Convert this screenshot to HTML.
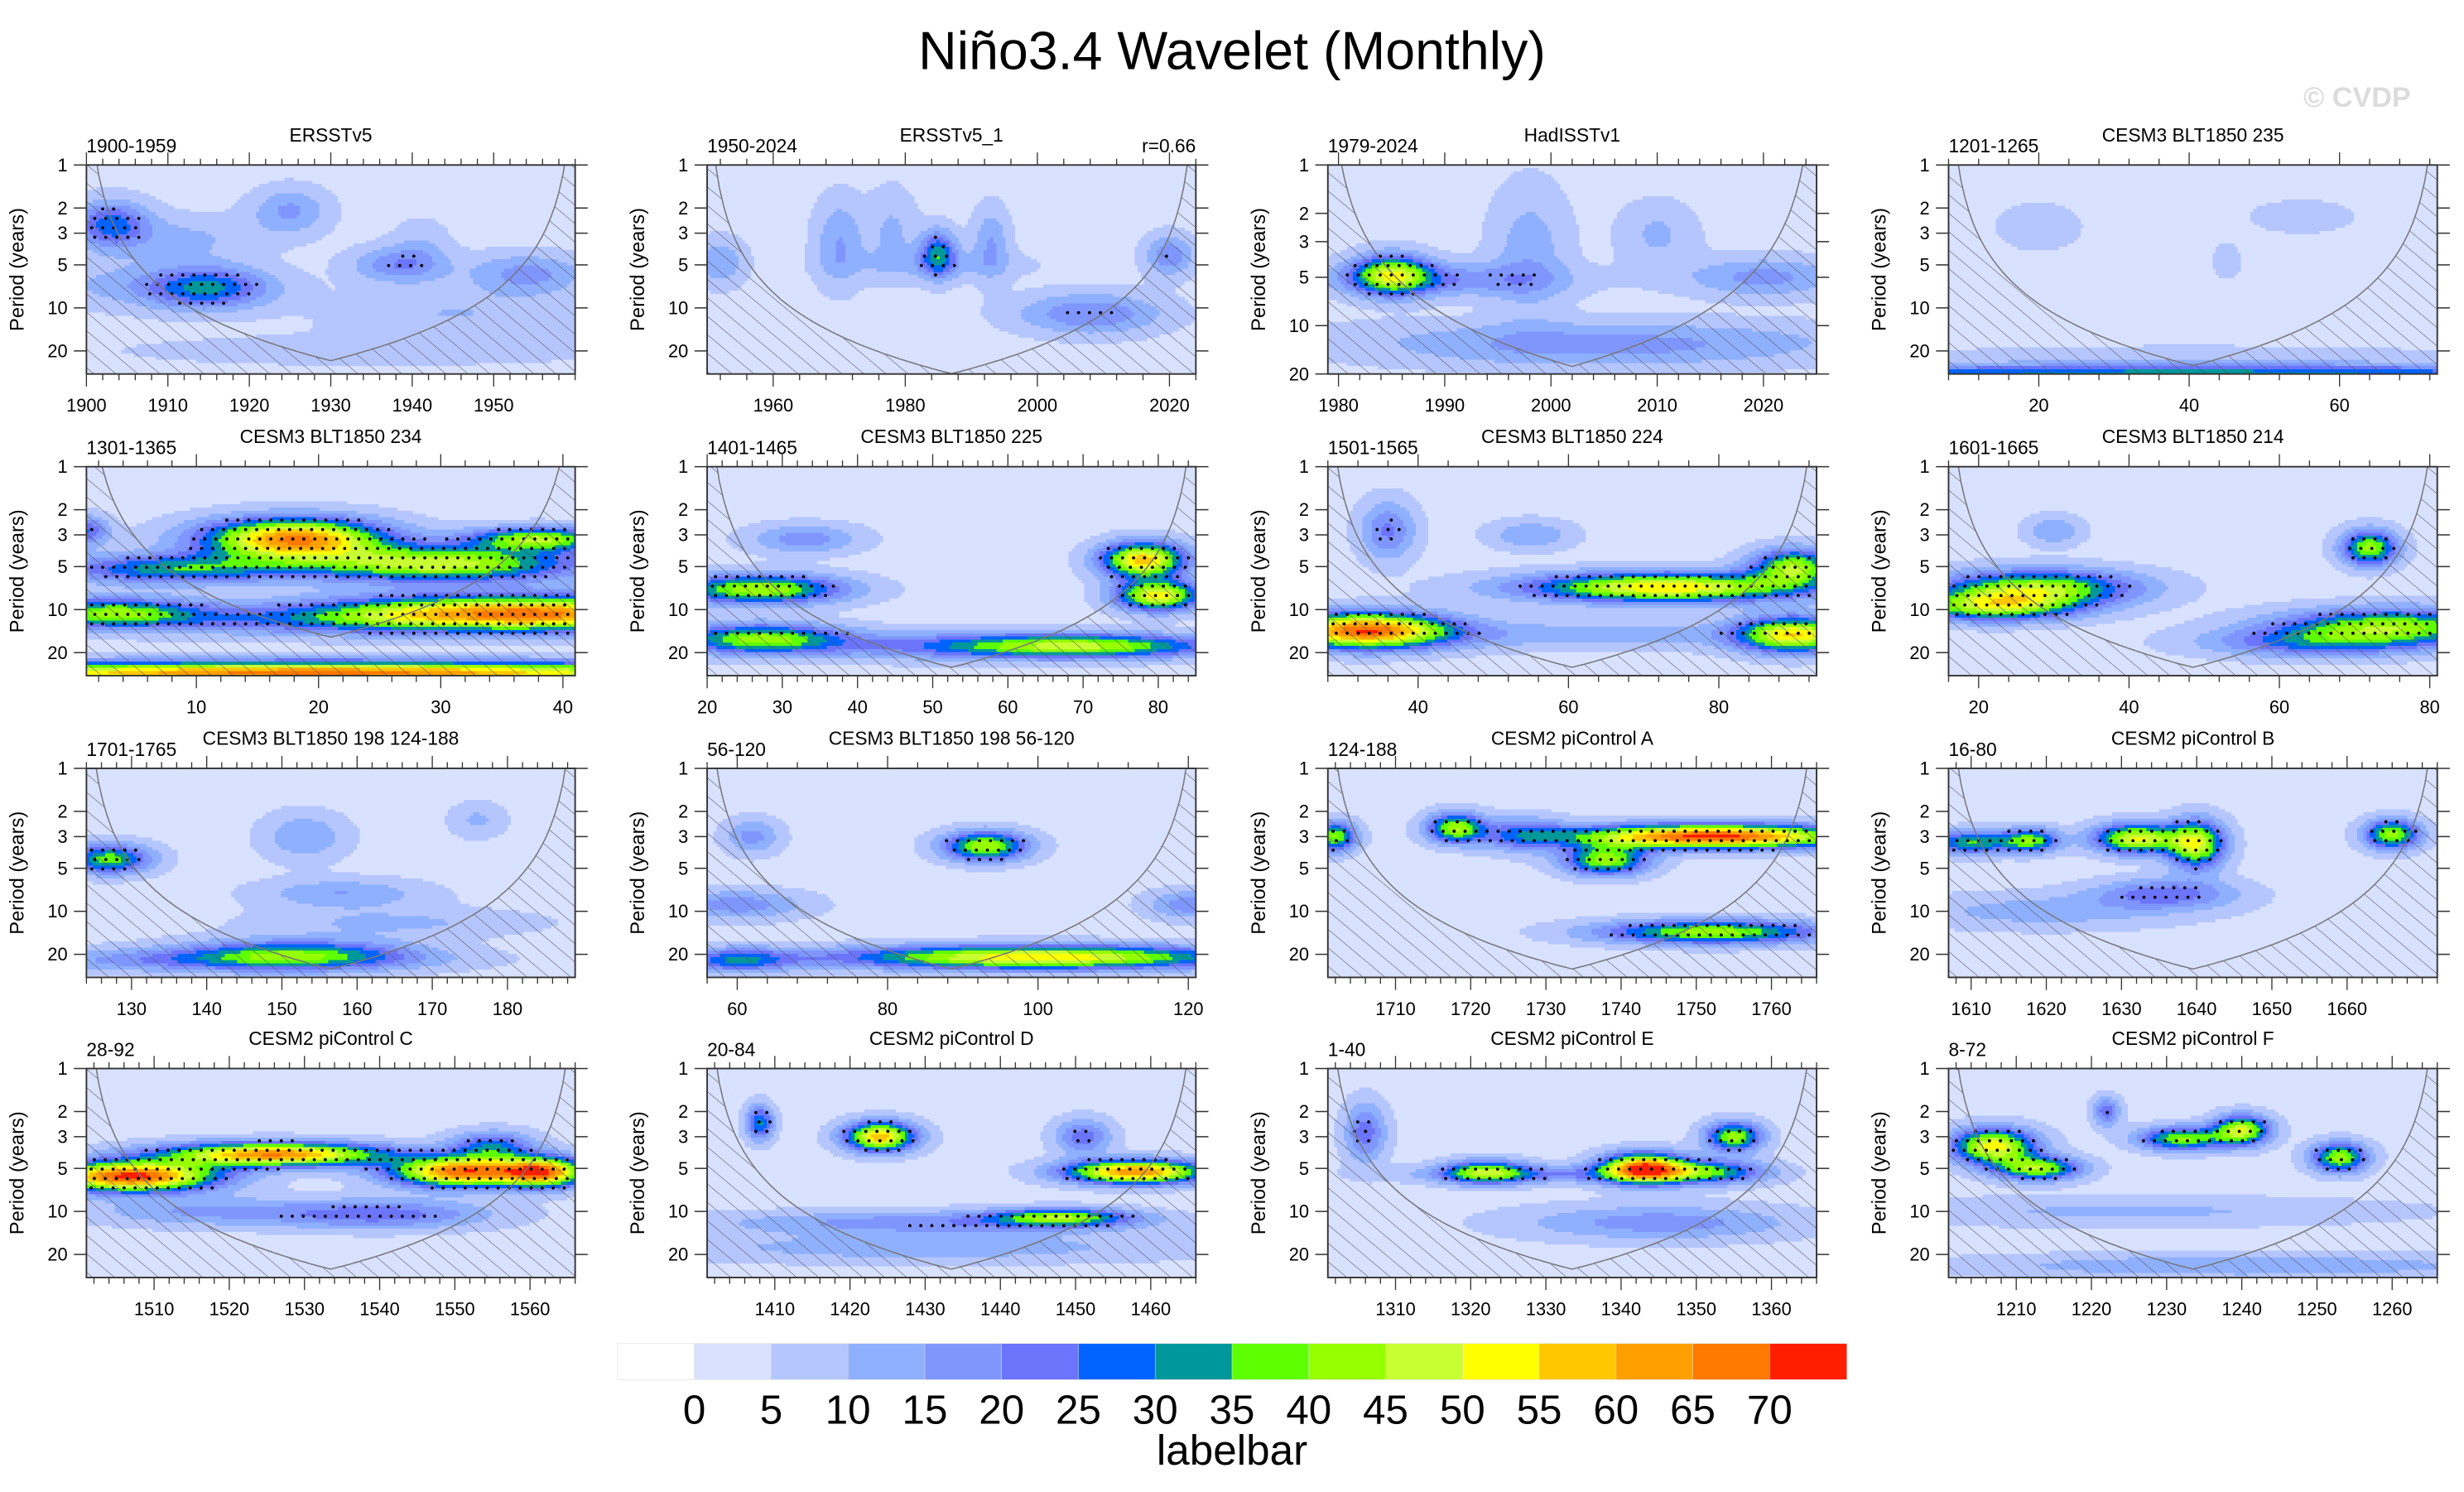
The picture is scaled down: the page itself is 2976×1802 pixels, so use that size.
<!DOCTYPE html>
<html><head><meta charset="utf-8"><title>Niño3.4 Wavelet (Monthly)</title>
<style>
html,body{margin:0;padding:0;background:#fff;}
svg{display:block;font-family:"Liberation Sans",sans-serif;}
</style></head>
<body>
<svg id="chart" xmlns="http://www.w3.org/2000/svg" width="2976" height="1802" viewBox="0 0 1568 949.5" preserveAspectRatio="none">
<defs>
<pattern id="hatch" patternUnits="userSpaceOnUse" width="9" height="9" patternTransform="rotate(-50)">
<line x1="0" y1="0" x2="0" y2="9" stroke="#555" stroke-width="0.6"/>
</pattern>
</defs>
<text x="784" y="44" text-anchor="middle" font-size="34">Niño3.4 Wavelet (Monthly)</text>
<text x="1500" y="68" text-anchor="middle" font-size="18" font-weight="bold" fill="#dcdcdc">© CVDP</text>
<g id="panels"></g>
<g id="labelbar"></g>
<text x="784" y="932" text-anchor="middle" font-size="27">labelbar</text>
</svg>
<script>
const NS="http://www.w3.org/2000/svg";
// ---- chart data ----
const panelTitles=["ERSSTv5","ERSSTv5_1","HadISSTv1","CESM3 BLT1850 235","CESM3 BLT1850 234","CESM3 BLT1850 225","CESM3 BLT1850 224","CESM3 BLT1850 214","CESM3 BLT1850 198 124-188","CESM3 BLT1850 198 56-120","CESM2 piControl A","CESM2 piControl B","CESM2 piControl C","CESM2 piControl D","CESM2 piControl E","CESM2 piControl F"];
const panelDates=["1900-1959","1950-2024","1979-2024","1201-1265","1301-1365","1401-1465","1501-1565","1601-1665","1701-1765","56-120","124-188","16-80","28-92","20-84","1-40","8-72"];
const panelXStart=[1900,1950,1979,8,1,20,28,16,124,56,1701,1607,1501,1401,1301,1201];
const panelXEnd=[1960,2024,2025,73,41,85,93,81,189,121,1766,1672,1566,1466,1366,1266];
const panelXTicks=[[1900,1910,1920,1930,1940,1950],[1960,1980,2000,2020],[1980,1990,2000,2010,2020],[20,40,60],[10,20,30,40],[20,30,40,50,60,70,80],[40,60,80],[20,40,60,80],[130,140,150,160,170,180],[60,80,100,120],[1710,1720,1730,1740,1750,1760],[1610,1620,1630,1640,1650,1660],[1510,1520,1530,1540,1550,1560],[1410,1420,1430,1440,1450,1460],[1310,1320,1330,1340,1350,1360],[1210,1220,1230,1240,1250,1260]];
const panelPMax=[29,29,20,29,29,29,29,29,29,29,29,29,29,29,29,29];
const yTicks=[1,2,3,5,10,20];
const levelLabels=[0,5,10,15,20,25,30,35,40,45,50,55,60,65,70];
const levelColors=["#ffffff","#d8e1ff","#b5c6ff","#8fb0ff","#7f96ff","#6b74fb","#0063ff","#00979b","#5eff00","#96ff00","#c8ff32","#ffff00","#ffc700","#ffa000","#ff7800","#ff1e00"];
// blobs: [time, period, time sigma (yrs), log-period sigma (decades), power]
const panelBlobs=[
[[1903,2.6,2.5,0.08,24],[1912,3.3,5,0.08,8],[1915,7.3,4,0.07,24],[1906,7,8,0.08,8],[1925,2.1,2.5,0.08,13],[1938,5,3,0.06,15],[1954,5.8,4,0.07,14],[1945,11,8,0.08,7],[1935,20,20,0.06,4],[1941,3.8,2,0.1,6]],
[[1952,4.8,2,0.08,12],[1970,3.5,2,0.15,12],[1985,4.2,1.5,0.08,28],[1978,3,2,0.15,8],[1993,3.5,1.5,0.12,12],[2020,4.3,2,0.07,16],[2008,11,6,0.07,17],[1985,5,8,0.05,6]],
[[1985,4.8,2,0.06,40],[1990,5.2,6,0.05,15],[1998,3.5,2,0.2,10],[2020,5,4,0.06,14],[2005,14,12,0.06,12],[2005,11,15,0.05,5],[2010,2.7,2,0.1,8]],
[[40,29,40,0.03,28],[20,2.7,3,0.08,6],[55,2.3,4,0.06,5],[45,4.7,1,0.06,6],[40,23,25,0.05,5]],
[[18,3.2,4,0.07,62],[8,5.2,5,0.05,30],[30,4.8,6,0.06,45],[38,3.2,3,0.04,40],[1,2.8,1,0.05,22],[20,28,20,0.04,65],[35,10.5,8,0.06,55],[3,10.5,4,0.05,35],[20,12,10,0.05,15],[40,11,3,0.05,10]],
[[27,7.2,6,0.05,42],[27,16,6,0.05,38],[78,4.5,3,0.06,55],[80,8,3,0.05,50],[70,18,10,0.04,38],[33,3.2,4,0.05,15],[52,18,12,0.05,12]],
[[33,14,6,0.06,65],[73,7,10,0.05,52],[90,5,3,0.06,40],[90,15,4,0.06,50],[36,2.8,2,0.1,18],[55,3,3,0.05,12],[62,15,15,0.05,10]],
[[28,7,7,0.06,40],[22,9.5,6,0.05,40],[72,3.7,2,0.06,40],[75,13,8,0.06,38],[65,17,8,0.05,22],[30,2.8,2,0.05,12]],
[[127,4.3,3,0.05,35],[152,20,8,0.05,30],[140,22,15,0.04,15],[158,7.5,6,0.05,12],[153,3,3,0.08,12],[176,2.3,2,0.06,8],[165,12,10,0.05,8]],
[[93,3.5,3,0.05,42],[100,21,14,0.04,52],[60,22,4,0.04,25],[62,3,2,0.06,14],[60,9,5,0.05,15],[120,9,3,0.05,15]],
[[1752,3,10,0.04,70],[1738,4.4,3,0.05,40],[1718,2.6,2,0.05,40],[1752,14,8,0.04,40],[1702,3,1.5,0.05,38],[1727,2.9,3,0.06,18]],
[[1632,3.1,3,0.05,48],[1640,3.4,2,0.08,45],[1610,3.3,3,0.04,32],[1618,3.2,2,0.04,35],[1666,2.9,2,0.05,40],[1636,7.5,5,0.05,20],[1620,10,10,0.06,10]],
[[1507,5.7,6,0.05,70],[1526,4,8,0.04,62],[1551,5.3,5,0.05,65],[1562,5.3,3,0.05,55],[1555,3.5,3,0.05,25],[1540,10.5,8,0.05,20],[1516,10,8,0.05,12]],
[[1424,3,2.5,0.05,55],[1458,5.3,5,0.04,62],[1408,2.4,1,0.06,28],[1451,3,2,0.06,20],[1448,11,5,0.03,35],[1430,12,15,0.04,15],[1430,18,20,0.05,10]],
[[1343,5,3,0.05,65],[1355,3,2,0.05,40],[1322,5.3,3,0.04,35],[1306,2.8,1.5,0.1,20],[1352,5.3,4,0.04,30],[1345,12,10,0.06,15],[1330,5.5,10,0.03,15]],
[[1207,3.5,3,0.06,50],[1213,5,3,0.04,40],[1232,3.1,3,0.04,38],[1240,2.7,2,0.05,45],[1253,4.2,2,0.05,40],[1222,2,1,0.05,20],[1240,24,20,0.04,12],[1225,10,20,0.05,8]]
];
const basePower=3;
// ---- layout ----
const colLeft=[55,450,845,1240], rowTop=[105,297,489,680], PW=311, PH=133;
const SX=1.3, SY=1.45;
function mk(tag,attrs){const e=document.createElementNS(NS,tag);for(const k in attrs)e.setAttribute(k,attrs[k]);return e;}
const panelsG=document.getElementById('panels');
function levelIndex(v){const i=Math.floor(v/5)+1;return Math.max(0,Math.min(15,i));}
panelTitles.forEach((title,pi)=>{
  const L=colLeft[pi%4], T=rowTop[Math.floor(pi/4)];
  const x0=panelXStart[pi], x1=panelXEnd[pi], pmax=panelPMax[pi];
  const xs=t=>L+(t-x0)/(x1-x0)*PW;
  const ys=p=>T+Math.log10(p)/Math.log10(pmax)*PH;
  const tAt=x=>x0+(x-L)/PW*(x1-x0);
  const pAt=y=>Math.pow(10,(y-T)/PH*Math.log10(pmax));
  const blobs=panelBlobs[pi];
  const field=(t,p)=>{let v=basePower;const lp=Math.log10(p);for(const b of blobs){const dx=(t-b[0])/(b[2]*SX),dy=(lp-Math.log10(b[1]))/(b[3]*SY);v+=b[4]*Math.exp(-0.5*(dx*dx+dy*dy));}return v;};
  const g=mk('g',{});
  
  
  panelsG.appendChild(g);
  const cid='clip'+pi;
  const cp=mk('clipPath',{id:cid});cp.appendChild(mk('rect',{x:L,y:T,width:PW,height:PH}));g.appendChild(cp);
  const heat=mk('g',{'clip-path':'url(#'+cid+')','shape-rendering':'crispEdges'});
  
  
  g.appendChild(heat);
  const cw=2,ch=2;
  const addRun=(x,y,w,lev)=>{
    const r=mk('rect',{x:x,y:y,width:w+0.4,height:ch+0.4,fill:levelColors[lev]});
    
    
    heat.appendChild(r);
  };
  for(let y=T;y<T+PH;y+=ch){
    let runStart=L,runLev=-1,x;
    for(x=L;x<L+PW;x+=cw){
      const lev=levelIndex(field(tAt(x+cw/2),pAt(y+ch/2)));
      if(lev!==runLev){
        if(runLev>=0)addRun(runStart,y,x-runStart,runLev);
        runStart=x;runLev=lev;
      }
    }
    if(runLev>=0)addRun(runStart,y,L+PW-runStart,runLev);
  }
  // stippling
  const dots=mk('g',{'clip-path':'url(#'+cid+')'});
  
  
  g.appendChild(dots);
  for(let y=T+4;y<T+PH*0.8;y+=6){for(let x=L+3+((y/6)%2)*2;x<L+PW;x+=7){
    if(field(tAt(x),pAt(y))>=18){const d=mk('circle',{cx:x,cy:y,r:1,fill:'#000'});
      
      
      dots.appendChild(d);}
  }}
  // cone of influence
  const pts=[];
  for(let i=0;i<=120;i++){const t=x0+(x1-x0)*i/120;const d=Math.min(t-x0,x1-t);const c=Math.max(0.3,0.78*d);pts.push([xs(t),ys(c)]);}
  const ptsStr=pts.map(p=>p[0].toFixed(1)+','+p[1].toFixed(1)).join(' ');
  const hz=mk('polygon',{points:ptsStr+' '+(L+PW)+','+(T+PH)+' '+L+','+(T+PH),fill:'url(#hatch)','clip-path':'url(#'+cid+')'});
  
  
  g.appendChild(hz);
  const cl=mk('polyline',{points:ptsStr,fill:'none',stroke:'#777',"stroke-width":0.8,'clip-path':'url(#'+cid+')'});
  
  
  g.appendChild(cl);
  // frame
  const fr=mk('rect',{x:L,y:T,width:PW,height:PH,fill:'none',stroke:'#333','stroke-width':1});
  
  
  g.appendChild(fr);
  // x ticks
  const tk=panelXTicks[pi];const step=tk.length>1?tk[1]-tk[0]:10;const minor=step/5;
  for(let t=Math.ceil(x0/minor)*minor;t<=x1;t+=minor){
    const X=xs(t);const isMaj=tk.indexOf(Math.round(t))>=0;const len=isMaj?8:4;
    const a=mk('line',{x1:X,y1:T+PH,x2:X,y2:T+PH+len,stroke:'#333','stroke-width':0.7});
    
    
    g.appendChild(a);
    const b=mk('line',{x1:X,y1:T,x2:X,y2:T-len,stroke:'#333','stroke-width':0.7});
    
    
    g.appendChild(b);
  }
  tk.forEach(t=>{const tx=mk('text',{x:xs(t),y:T+PH+24,'text-anchor':'middle','font-size':11.5});tx.textContent=t;
    
    
    g.appendChild(tx);});
  // y ticks
  yTicks.forEach(p=>{if(p>pmax)return;const Y=ys(p);
    const a=mk('line',{x1:L-8,y1:Y,x2:L,y2:Y,stroke:'#333','stroke-width':0.8});
    
    
    g.appendChild(a);
    const b=mk('line',{x1:L+PW,y1:Y,x2:L+PW+8,y2:Y,stroke:'#333','stroke-width':0.8});
    
    
    g.appendChild(b);
    const tx=mk('text',{x:L-12,y:Y+4,'text-anchor':'end','font-size':11.5});tx.textContent=p;
    
    
    g.appendChild(tx);});
  const yt=mk('text',{x:0,y:0,'text-anchor':'middle','font-size':12.5,transform:'translate('+(L-40)+','+(T+PH/2)+') rotate(-90)'});yt.textContent='Period (years)';
  
  
  g.appendChild(yt);
  const st=mk('text',{x:L+PW/2,y:T-15,'text-anchor':'middle','font-size':12});st.textContent=title;
  
  
  g.appendChild(st);
  const dt=mk('text',{x:L,y:T-8,'font-size':12});dt.textContent=panelDates[pi];
  
  
  g.appendChild(dt);
  if(pi===1){const r=mk('text',{x:L+PW,y:T-8,'text-anchor':'end','font-size':12});r.textContent='r=0.66';
    
    
    g.appendChild(r);}
});
// ---- labelbar ----
const lb=document.getElementById('labelbar');
const LB0=393,LBW=782/16,LBY=855,LBH=23;
for(let i=0;i<16;i++){
  const r=mk('rect',{x:LB0+i*LBW,y:LBY,width:LBW+0.3,height:LBH,fill:levelColors[i],stroke:'#ddd','stroke-width':0.3});
  
  
  lb.appendChild(r);
}
levelLabels.forEach((v,i)=>{
  const t=mk('text',{x:LB0+(i+1)*LBW,y:906,'text-anchor':'middle','font-size':26});t.textContent=v;
  
  
  lb.appendChild(t);
});
</script>
</body></html>
